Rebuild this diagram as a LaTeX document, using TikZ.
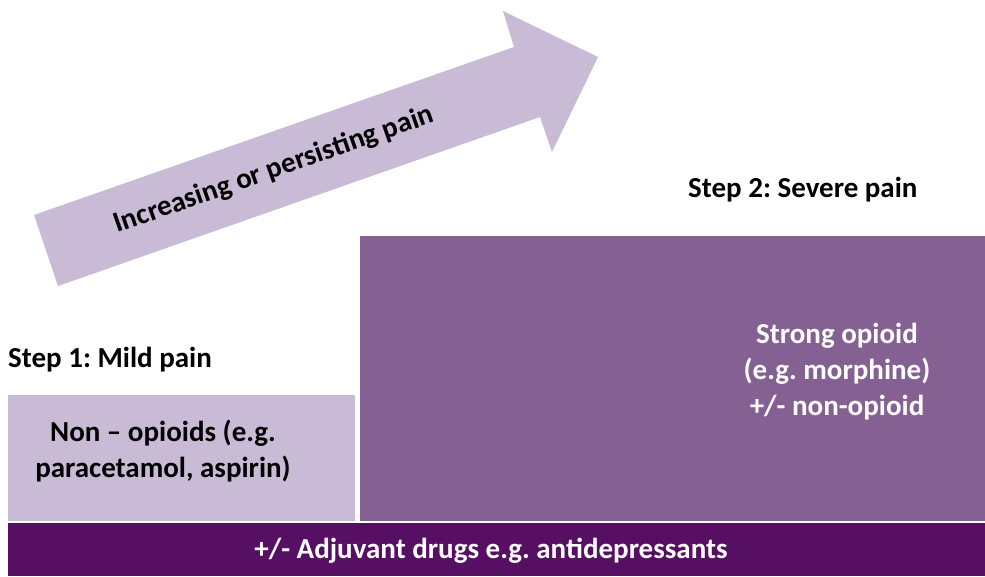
\documentclass[tikz,border=0pt]{standalone}
\usepackage{fontspec}
\setmainfont{Carlito}
\usetikzlibrary{positioning}
\definecolor{lavender}{HTML}{C9BBD6}
\definecolor{plum}{HTML}{856093}
\definecolor{darkplum}{HTML}{560F63}
\frenchspacing

\begin{document}
\begin{tikzpicture}[
    x=1pt, y=-1pt,
    every node/.style={
        font=\bfseries\fontsize{29}{36}\selectfont,
        align=center,
        inner sep=0pt
    },
    block/.style={
        anchor=north west
    },
    heading/.style={anchor=base west}
]
\useasboundingbox (0,0) rectangle (985,576);
\fill[lavender] (34,215) -- (514,47) -- (503,11) -- (598,57)
    -- (552,152) -- (540,117) -- (58,286) -- cycle;
\node[rotate=19.3] (trend) at (274,170) {Increasing or persisting pain};
\node[block, fill=lavender, minimum width=347pt, minimum height=126pt] (mild) at (8,395) {};
\node[block, fill=plum, minimum width=625pt, minimum height=285pt] (severe) at (360,236) {};
\node[block, fill=darkplum, minimum width=977pt, minimum height=53pt] (adjuvant) at (8,523) {};
\node[heading] (step1) at (8,367) {Step 1: Mild pain};
\node[heading] (step2) at (688,197) {Step 2: Severe pain};
\node (nonop) at (163,451) {Non -- opioids (e.g.\\paracetamol, aspirin)};
\node[text=white] (strong) at (837,372) {Strong opioid\\(e.g. morphine)\\+/- non-opioid};
\node[text=white] (adj) at (491,551) {+/- Adjuvant drugs e.g. antidepressants};
\end{tikzpicture}
\end{document}
